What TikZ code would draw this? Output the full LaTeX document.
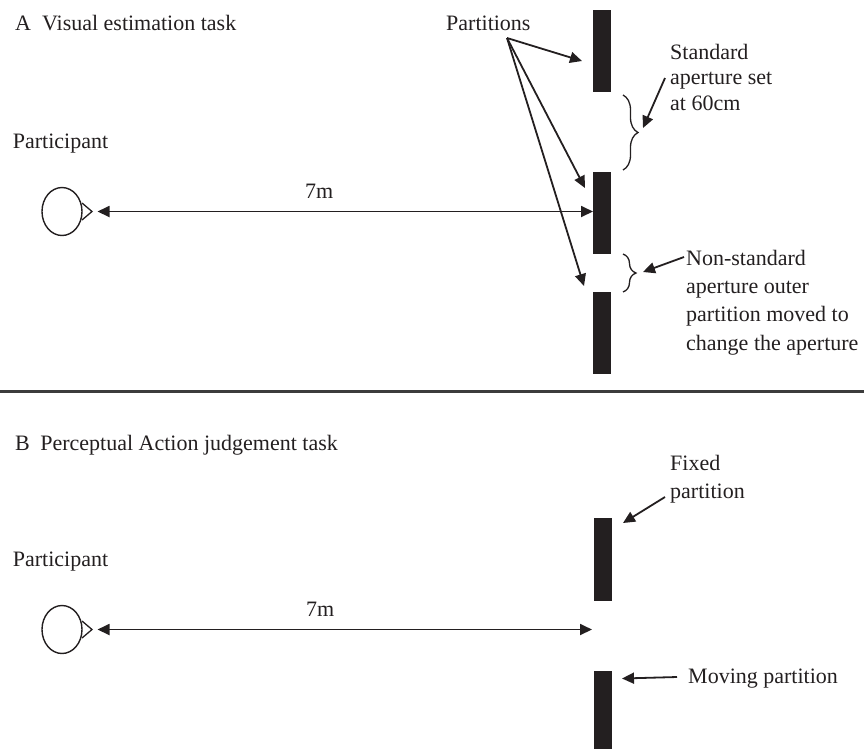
\documentclass[tikz,border=0pt]{standalone}
\usepackage{fontspec}
\setmainfont{Liberation Serif}
\usetikzlibrary{arrows.meta,shapes.geometric,decorations.pathreplacing}
\definecolor{ink}{RGB}{35,31,32}
\definecolor{rule}{RGB}{60,60,60}
\begin{document}
\begin{tikzpicture}[x=1pt,y=-1pt,
  lbl/.style={font=\fontsize{22}{27}\selectfont, inner sep=0pt, anchor=base west, text=ink},
  wall/.style={fill=ink, draw=none, minimum width=18pt, inner sep=0pt, anchor=north west},
  eyeshape/.style={ellipse, draw=ink, line width=1.4pt, minimum width=40pt, minimum height=48pt, inner sep=0pt},
  arr/.style={-{Triangle[length=12pt,width=11pt]}, line width=1.8pt, draw=ink},
  dbl/.style={{Triangle[length=12pt,width=11pt]}-{Triangle[length=12pt,width=11pt]}, line width=1.8pt, draw=ink},
  brc/.style={decorate, decoration={brace, amplitude=#1}, line width=1.3pt, draw=ink},
]
\useasboundingbox (0,0) rectangle (864,748);

% ---------------- Part A ----------------
\node[lbl] (titleA) at (15,30) {A\hspace{11pt}Visual estimation task};
\node[lbl] (partA) at (12.7,148) {Participant};
\node[eyeshape] (eyeA) at (62,211.5) {};
\draw[ink, line width=1.3pt] (82,203) -- (92,211.5) -- (82,220);
\coordinate (aA) at (97.5,211.5);
\node[lbl] (dA) at (305,198) {7m};

\node[wall, minimum height=82pt] (P1) at (593,10) {};
\node[wall, minimum height=82pt] (P2) at (593,172) {};
\node[wall, minimum height=82pt] (P3) at (593,292) {};

\draw[dbl] (aA) -- (aA -| P2.west);

\node[lbl] (parts) at (446,30) {Partitions};
\coordinate (ps) at (507,38);
\coordinate (t1) at (582,61);
\coordinate (t2) at (585,188);
\coordinate (t3) at (584,286);
\draw[arr] (ps) -- (t1);
\draw[arr] (ps) -- (t2);
\draw[arr] (ps) -- (t3);

\draw[brc=15pt] (623,95) -- (623,170);
\draw[brc=13pt] (623,254) -- (623,292);

\node[lbl] (std1) at (670,59) {Standard};
\node[lbl] (std2) at (670,84.5) {aperture set};
\node[lbl] (std3) at (670,110) {at 60cm};
\coordinate (ss) at (665,78);
\coordinate (st) at (643,128);
\draw[arr] (ss) -- (st);

\node[lbl] (ns1) at (686,265) {Non-standard};
\node[lbl] (ns2) at (686,293) {aperture outer};
\node[lbl] (ns3) at (686,321.5) {partition moved to};
\node[lbl] (ns4) at (686,350) {change the aperture};
\coordinate (ns) at (684,257);
\coordinate (nt) at (643,272);
\draw[arr] (ns) -- (nt);

% separator
\draw[line width=2.4pt, draw=rule] (0,391.5) -- (864,391.5);

% ---------------- Part B ----------------
\node[lbl] (titleB) at (15,450.5) {B\hspace{10.5pt}Perceptual Action judgement task};
\node[lbl] (partB) at (12.7,566) {Participant};
\node[eyeshape] (eyeB) at (62,629.5) {};
\draw[ink, line width=1.3pt] (82,621) -- (92,629.5) -- (82,638);
\coordinate (aB) at (97.5,629.5);
\coordinate (eB) at (592,629.5);
\node[lbl] (dB) at (306,616) {7m};
\draw[dbl] (aB) -- (eB);

\node[wall, minimum height=83pt] (F) at (593.5,518) {};
\node[wall, minimum height=80pt] (M) at (594,671) {};

\node[lbl] (fx1) at (670,470) {Fixed};
\node[lbl] (fx2) at (670,498) {partition};
\coordinate (fs) at (665,497);
\coordinate (ft) at (623,523);
\draw[arr] (fs) -- (ft);

\node[lbl] (mv) at (688,683) {Moving partition};
\coordinate (ms) at (677,677);
\coordinate (mt) at (622,678.5);
\draw[arr] (ms) -- (mt);
\end{tikzpicture}
\end{document}
